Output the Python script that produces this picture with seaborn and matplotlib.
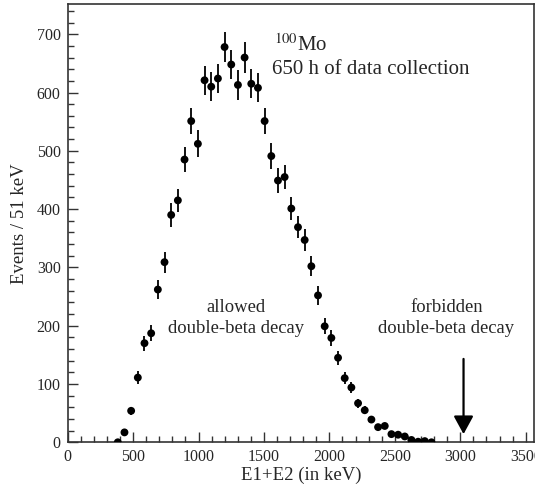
"""
Two-electron energy spectrum of 100Mo, events per 51 keV bin.
"""

import numpy as np
import pandas as pd
import seaborn as sns
import matplotlib.pyplot as plt

# Bin centres (keV)
energy_kev = [383, 434, 485, 536, 587, 638, 689, 740, 791, 842, 893, 944,
              995, 1046, 1097, 1148, 1199, 1250, 1301, 1352, 1403, 1454,
              1505, 1556, 1607, 1658, 1709, 1760, 1811, 1862, 1913, 1964,
              2015, 2066, 2117, 2168, 2219, 2270, 2321, 2372, 2423, 2474,
              2525, 2576, 2627, 2678, 2729, 2780]

# Counts per bin
events = [0, 17, 54, 111, 170, 187, 262, 309, 390, 415, 485, 551,
          512, 621, 610, 624, 678, 648, 613, 660, 615, 608, 551, 491,
          449, 455, 401, 369, 347, 302, 252, 199, 179, 145, 110, 94,
          67, 55, 39, 26, 28, 14, 13, 10, 4, 1, 2, 0]

# Error bar half widths
errors = [0, 4, 7, 11, 13, 14, 16, 18, 20, 20, 22, 23,
          23, 25, 25, 25, 26, 25, 25, 26, 25, 25, 23, 22,
          21, 21, 20, 19, 19, 17, 16, 14, 13, 12, 10, 10,
          8, 7, 6, 5, 5, 4, 4, 3, 2, 1, 1, 0]

df = pd.DataFrame({"E": energy_kev, "N": events, "err": errors})

# Figure style
sns.set_style("ticks")
plt.rcParams["font.family"] = ["Liberation Serif", "DejaVu Serif"]
plt.rcParams["mathtext.fontset"] = "stix"

fig = plt.figure(figsize=(5.35, 4.87), dpi=100)
ax = fig.add_axes([0.1265, 0.0918, 0.872, 0.899])

ax.errorbar(df["E"], df["N"], yerr=df["err"], fmt="none",
            ecolor="black", elinewidth=1.3, capsize=0, zorder=2)
sns.scatterplot(data=df, x="E", y="N", ax=ax, color="black",
                s=32, edgecolor="none", zorder=3)

# Axes
ax.set_xlim(0, 3565)
ax.set_ylim(0, 751)
ax.set_xticks(np.arange(0, 3501, 500))
ax.set_xticks(np.arange(0, 3501, 100), minor=True)
ax.set_yticks(np.arange(0, 701, 100))
ax.set_yticks(np.arange(0, 741, 20), minor=True)
ax.tick_params(which="major", direction="in", length=7, width=1.0,
               color="#333333", labelsize=11.5, pad=5)
ax.tick_params(which="minor", direction="in", length=4, width=1.0,
               color="#333333")
ax.tick_params(axis="y", which="both", left=True, right=False)
ax.tick_params(axis="x", which="both", bottom=True, top=False)
for side in ["left", "right", "top", "bottom"]:
    ax.spines[side].set_visible(True)
    ax.spines[side].set_color("#333333")
    ax.spines[side].set_linewidth(1.2)

ax.set_xlabel("E1+E2 (in keV)", fontsize=13.5, labelpad=1)
ax.set_ylabel("Events / 51 keV", fontsize=13.5, labelpad=6)

# Annotations
ax.text(1575, 682, "$^{100}$Mo", fontsize=15, va="center", ha="left")
ax.text(1560, 640, "650 h of data collection", fontsize=15,
        va="center", ha="left")
ax.text(1286, 213, "allowed\ndouble-beta decay", fontsize=13.4,
        ha="center", va="center", linespacing=1.25)
ax.text(2895, 213, "forbidden\ndouble-beta decay", fontsize=13.4,
        ha="center", va="center", linespacing=1.25)
ax.annotate("", xy=(3025, 14), xytext=(3025, 143),
            arrowprops=dict(arrowstyle="-|>,head_length=1.1,head_width=0.6",
                            color="black", lw=1.6, shrinkA=0, shrinkB=0))

fig.savefig("out.png", dpi=100)
